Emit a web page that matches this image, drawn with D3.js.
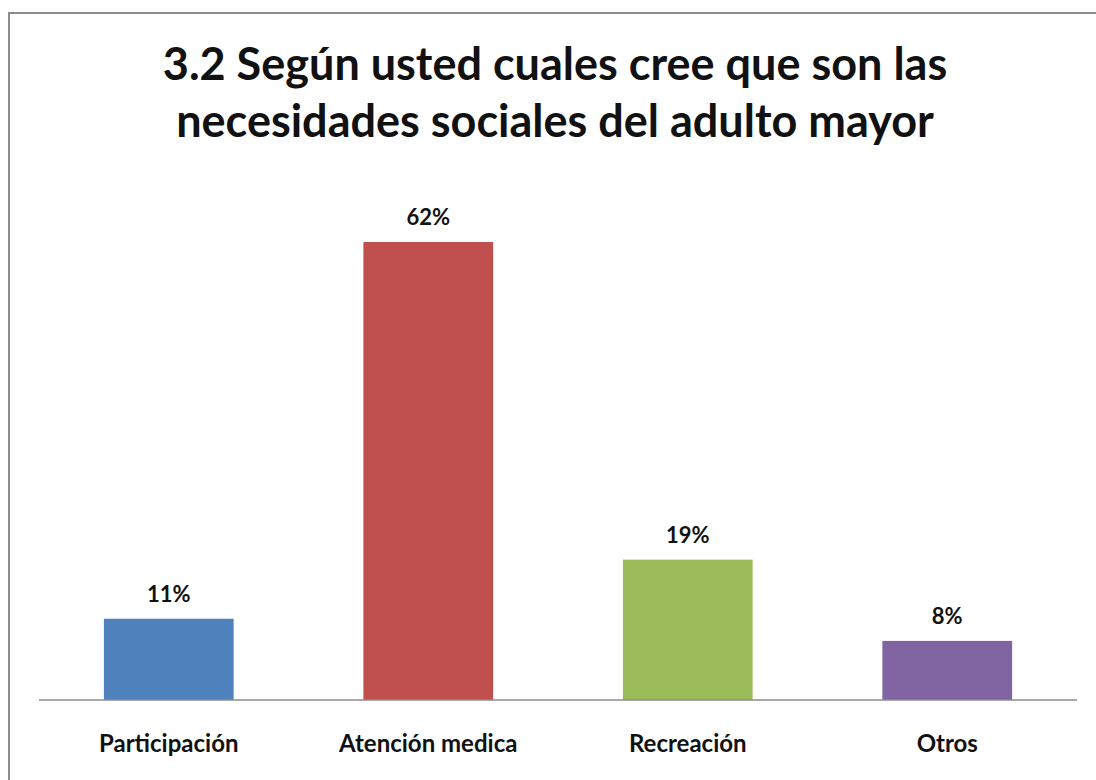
<!DOCTYPE html>
<html>
<head>
<meta charset="utf-8">
<script src="https://cdn.jsdelivr.net/npm/d3@7"></script>
<style>
  body { margin: 0; background: #fff; }
  svg { display: block; font-family: Lato, "Open Sans", sans-serif; }
</style>
</head>
<body>
<div id="chart"></div>
<script>
var categories = ['Participación', 'Atención medica', 'Recreación', 'Otros'];
var values = [11, 62, 19, 8];
var barColors = ['#4F81BD', '#C0504D', '#9BBB59', '#8064A2'];
var titleLines = ['3.2 Según usted cuales cree que son las', 'necesidades sociales del adulto mayor'];

var width = 1096, height = 780;
var svg = d3.select('#chart').append('svg')
    .attr('width', width)
    .attr('height', height);

// outer frame (runs off the right and bottom edges)
svg.append('rect')
    .attr('x', 9).attr('y', 13)
    .attr('width', 1100).attr('height', 800)
    .attr('fill', '#fff')
    .attr('stroke', '#8c8c8c')
    .attr('stroke-width', 2);

svg.selectAll('text.title')
    .data(titleLines)
    .enter().append('text')
    .attr('class', 'title')
    .attr('x', 555)
    .attr('y', function (d, i) { return 80 + i * 57; })
    .attr('text-anchor', 'middle')
    .attr('font-size', 45)
    .attr('font-weight', 'bold')
    .attr('fill', '#111')
    .text(function (d) { return d; });

var x = d3.scaleBand()
    .domain(categories)
    .range([39, 1077])
    .paddingInner(0.5)
    .paddingOuter(0.25);

var y = d3.scaleLinear()
    .domain([0, 62])
    .range([700, 242]);

var bars = svg.selectAll('g.bar')
    .data(values)
    .enter().append('g')
    .attr('class', 'bar');

bars.append('rect')
    .attr('x', function (d, i) { return x(categories[i]); })
    .attr('y', function (d) { return y(d); })
    .attr('width', x.bandwidth())
    .attr('height', function (d) { return y(0) - y(d); })
    .attr('fill', function (d, i) { return barColors[i]; });

bars.append('text')
    .attr('x', function (d, i) { return x(categories[i]) + x.bandwidth() / 2; })
    .attr('y', function (d) { return y(d) - 17; })
    .attr('text-anchor', 'middle')
    .attr('font-size', 22)
    .attr('font-weight', 'bold')
    .attr('fill', '#111')
    .text(function (d) { return d + '%'; });

var xAxis = svg.append('g')
    .attr('transform', 'translate(0,' + y(0) + ')')
    .call(d3.axisBottom(x).tickSize(0).tickPadding(35));
xAxis.select('.domain')
    .attr('stroke', '#8c8c8c')
    .attr('stroke-width', 1.5)
    .attr('d', 'M39,0H1077');
xAxis.selectAll('text')
    .attr('font-family', 'Lato, "Open Sans", sans-serif')
    .attr('font-size', 24)
    .attr('font-weight', 'bold')
    .attr('fill', '#111');
</script>
</body>
</html>
